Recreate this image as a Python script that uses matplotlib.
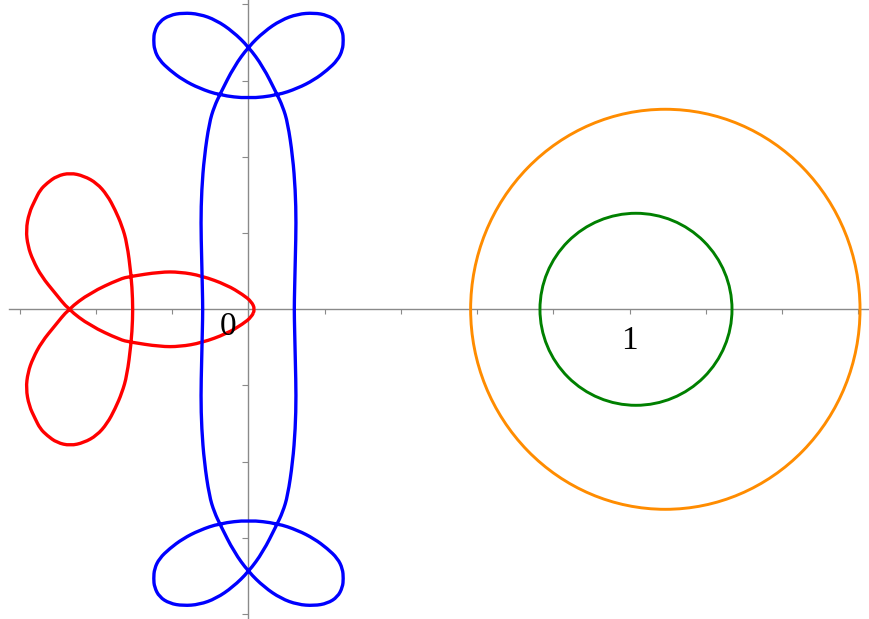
import matplotlib
matplotlib.use("Agg")
import matplotlib.pyplot as plt
from matplotlib.patches import Ellipse, PathPatch
from matplotlib.path import Path

# ---- data (in axis units) ----
red_x = [0.017, 0.008, -0.014, -0.057, -0.123, -0.180, -0.232, -0.311, -0.337, -0.416, -0.473,
         -0.508, -0.543, -0.566, -0.579, -0.584, -0.576, -0.560, -0.547, -0.529, -0.503,
         -0.468, -0.432, -0.398, -0.371, -0.350, -0.332, -0.319, -0.308, -0.304, -0.304,
         -0.308, -0.319, -0.332, -0.350, -0.371, -0.398, -0.432, -0.468, -0.503, -0.529,
         -0.547, -0.560, -0.576, -0.584, -0.579, -0.566, -0.543, -0.508, -0.473, -0.416,
         -0.337, -0.311, -0.232, -0.180, -0.123, -0.057, -0.014, 0.008, 0.017]
red_y = [0.000, 0.020, 0.038, 0.064, 0.088, 0.098, 0.098, 0.086, 0.080, 0.043, 0.000,
         -0.043, -0.086, -0.129, -0.166, -0.208, -0.253, -0.287, -0.313, -0.331, -0.350,
         -0.358, -0.350, -0.331, -0.300, -0.261, -0.219, -0.174, -0.090, -0.026, 0.026,
         0.090, 0.174, 0.219, 0.261, 0.300, 0.331, 0.350, 0.358, 0.350, 0.331,
         0.313, 0.287, 0.253, 0.208, 0.166, 0.129, 0.086, 0.043, 0.000, -0.043,
         -0.080, -0.086, -0.098, -0.098, -0.088, -0.064, -0.038, -0.020, 0.000]

blue_x = [0.120, 0.121, 0.123, 0.125, 0.123, 0.116, 0.103, 0.090, 0.073, 0.038, 0.000,
          -0.041, -0.085, -0.129, -0.172, -0.207, -0.234, -0.247, -0.249, -0.247, -0.234,
          -0.207, -0.172, -0.129, -0.076, 0.000, 0.076, 0.129, 0.172, 0.207, 0.234,
          0.247, 0.249, 0.247, 0.234, 0.207, 0.172, 0.129, 0.085, 0.041, 0.000,
          -0.038, -0.073, -0.090, -0.103, -0.116, -0.123, -0.125, -0.123, -0.121, -0.120,
          -0.121, -0.123, -0.125, -0.123, -0.116, -0.103, -0.090, -0.073, -0.038, 0.000,
          0.041, 0.085, 0.129, 0.172, 0.207, 0.234, 0.247, 0.249, 0.247, 0.234,
          0.207, 0.172, 0.129, 0.076, 0.000, -0.076, -0.129, -0.172, -0.207, -0.234,
          -0.247, -0.249, -0.247, -0.234, -0.207, -0.172, -0.129, -0.085, -0.041, 0.000,
          0.038, 0.073, 0.090, 0.103, 0.116, 0.123, 0.125, 0.123, 0.121, 0.120]
blue_y = [0.000, 0.051, 0.138, 0.227, 0.313, 0.401, 0.489, 0.532, 0.568, 0.637, 0.689,
          0.729, 0.759, 0.775, 0.778, 0.772, 0.755, 0.729, 0.707, 0.681, 0.654,
          0.628, 0.602, 0.580, 0.562, 0.553, 0.562, 0.580, 0.602, 0.628, 0.654,
          0.681, 0.707, 0.729, 0.755, 0.772, 0.778, 0.775, 0.759, 0.729, 0.689,
          0.637, 0.568, 0.532, 0.489, 0.401, 0.313, 0.227, 0.138, 0.051, 0.000,
          -0.051, -0.138, -0.227, -0.313, -0.401, -0.489, -0.532, -0.568, -0.637, -0.689,
          -0.729, -0.759, -0.775, -0.778, -0.772, -0.755, -0.729, -0.707, -0.681, -0.654,
          -0.628, -0.602, -0.580, -0.562, -0.553, -0.562, -0.580, -0.602, -0.628, -0.654,
          -0.681, -0.707, -0.729, -0.755, -0.772, -0.778, -0.775, -0.759, -0.729, -0.689,
          -0.637, -0.568, -0.532, -0.489, -0.401, -0.313, -0.227, -0.138, -0.051, 0.000]

green_center = (1.017, 0.0)
green_radius = 0.252
orange_center = (1.094, 0.0)
orange_rx = 0.511
orange_ry = 0.525

x_ticks = [-0.6, -0.4, -0.2, 0.2, 0.4, 0.6, 0.8, 1.0, 1.2, 1.4, 1.6]
y_ticks = [-0.8, -0.6, -0.4, -0.2, 0.2, 0.4, 0.6, 0.8]
tick_labels = {"0": (-0.053, -0.046), "1": (1.001, -0.083)}


def smooth_closed_path(xs, ys):
    """Quadratic B-spline path (rendered by matplotlib) using the traced
    points as control points of a closed curve."""
    pts = list(zip(xs, ys))
    if pts[0] == pts[-1]:
        pts = pts[:-1]
    n = len(pts)
    mid = lambda a, b: ((a[0] + b[0]) / 2.0, (a[1] + b[1]) / 2.0)
    verts = [mid(pts[-1], pts[0])]
    codes = [Path.MOVETO]
    for i in range(n):
        verts.append(pts[i])
        verts.append(mid(pts[i], pts[(i + 1) % n]))
        codes += [Path.CURVE3, Path.CURVE3]
    return Path(verts, codes)


# ---- figure ----
fig = plt.figure(figsize=(8.7, 6.19), dpi=100)
ax = fig.add_axes([0, 0, 1, 1])
ax.set_xlim(-0.6522, 1.6312)
ax.set_ylim(-0.8129, 0.8118)

axis_col = "#8a8a8a"
for s in ["top", "right"]:
    ax.spines[s].set_visible(False)
ax.spines["left"].set_position(("data", 0))
ax.spines["bottom"].set_position(("data", 0))
ax.spines["left"].set_color(axis_col)
ax.spines["bottom"].set_color(axis_col)
ax.spines["left"].set_linewidth(1.0)
ax.spines["bottom"].set_linewidth(1.0)
ax.spines["bottom"].set_bounds(-0.629, 1.6312)

ax.set_xticks(x_ticks)
ax.set_yticks(y_ticks)
ax.set_xticklabels([])
ax.set_yticklabels([])
ax.tick_params(axis="x", direction="out", length=3.5, width=0.8, color=axis_col)
ax.tick_params(axis="y", direction="out", length=4, width=0.8, color=axis_col)

ax.add_patch(PathPatch(smooth_closed_path(red_x, red_y), fill=False,
                       edgecolor="#ff0000", lw=2.4, joinstyle="round", zorder=3))
ax.add_patch(PathPatch(smooth_closed_path(blue_x, blue_y), fill=False,
                       edgecolor="#0000ff", lw=2.4, joinstyle="round", zorder=4))
ax.add_patch(Ellipse(orange_center, 2 * orange_rx, 2 * orange_ry, fill=False,
                     edgecolor="#ff8c00", lw=2.1, zorder=3))
ax.add_patch(Ellipse(green_center, 2 * green_radius, 2 * green_radius, fill=False,
                     edgecolor="#008000", lw=2.1, zorder=3))

for txt, (tx, ty) in tick_labels.items():
    ax.text(tx, ty, txt, ha="center", va="center", fontsize=24,
            family=["Liberation Serif", "DejaVu Serif"], color="black", zorder=5)

fig.savefig("out.png", dpi=100)
